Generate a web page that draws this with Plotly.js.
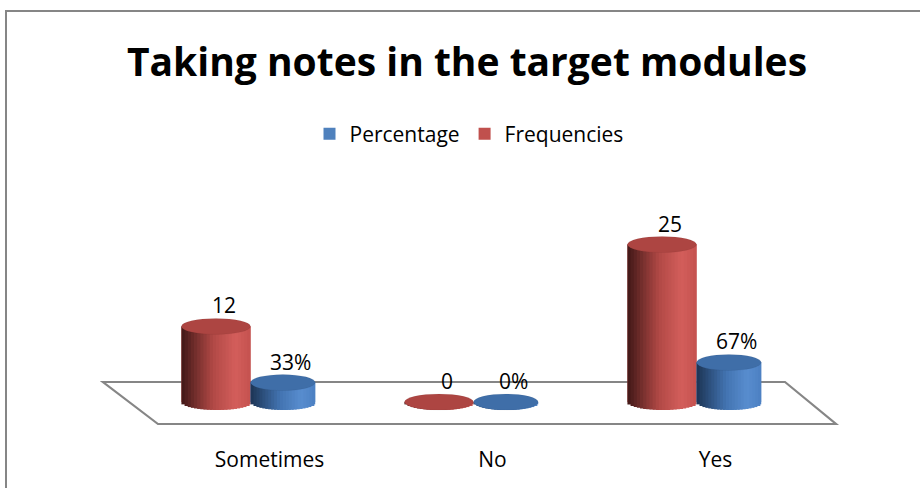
<!DOCTYPE html>
<html>
<head>
<meta charset="utf-8">
<script src="https://cdn.plot.ly/plotly-3.0.1.min.js"></script>
<style>
  html, body { margin: 0; padding: 0; background: #ffffff; }
  #chart { width: 920px; height: 488px; }
</style>
</head>
<body>
<div id="chart"></div>
<script>
// ---------------- data ----------------
const categories = ['Sometimes', 'No', 'Yes'];
const frequencies = [12, 0, 25];
const percentages = [33, 0, 67];
const seriesNames = ['Percentage', 'Frequencies'];
const chartTitle = 'Taking notes in the target modules';

// ---------------- layout geometry (pixels) ----------------
const W = 920, H = 488;
const L = 158, PLOT_W = 669;           // x range [-0.5, 2.5]
const TOP = 213, ZERO = 402, BOT = 414;
const PLOT_H = BOT - TOP;
const PX_RED = 6.3;                    // px per frequency unit
const PX_BLUE = 0.59;                  // px per percentage unit
const RY = 8;                          // ellipse vertical radius (px)
const FONT = '"Open Sans", Lato, sans-serif';

const redRange = [-(BOT - ZERO) / PX_RED, (ZERO - TOP) / PX_RED];
const blueRange = [-(BOT - ZERO) / PX_BLUE, (ZERO - TOP) / PX_BLUE];

const RED = { off: -0.395, w: 0.31, axis: 'y', px: PX_RED, main: '#c0504d', top: '#ad4542',
  stops: [[0, [64, 24, 23]], [0.45, [176, 72, 69]], [0.78, [211, 94, 91]], [1, [196, 82, 79]]] };
const BLUE = { off: -0.085, w: 0.29, axis: 'y2', px: PX_BLUE, main: '#4f81bd', top: '#3f6ea8',
  stops: [[0, [28, 52, 84]], [0.45, [66, 115, 176]], [0.78, [88, 141, 207]], [1, [76, 128, 194]]] };

function gradColor(stops, t) {
  for (let k = 1; k < stops.length; k++) {
    if (t <= stops[k][0]) {
      const a = stops[k - 1], b = stops[k];
      const f = (t - a[0]) / (b[0] - a[0]);
      const c = a[1].map((v, j) => Math.round(v + (b[1][j] - v) * f));
      return 'rgb(' + c.join(',') + ')';
    }
  }
  const c = stops[stops.length - 1][1];
  return 'rgb(' + c.join(',') + ')';
}

const xIdx = categories.map((c, i) => i);
const traces = [];

// legend-bearing main traces (drawn first, covered by shaded bands)
[[percentages, BLUE, seriesNames[0]], [frequencies, RED, seriesNames[1]]].forEach(([vals, S, name]) => {
  traces.push({
    type: 'bar', name: name, x: xIdx, y: vals, yaxis: S.axis,
    offset: S.off, width: S.w, marker: { color: S.main, line: { width: 0 } },
    hoverinfo: 'skip', showlegend: true
  });
});

// shaded cylinder bands
const NB = 22;
[[frequencies, RED], [percentages, BLUE]].forEach(([vals, S]) => {
  const ryU = RY / S.px;
  for (let b = 0; b < NB; b++) {
    const u = (b + 0.5) / NB;
    const depth = ryU * Math.sqrt(Math.max(0, 1 - Math.pow(2 * u - 1, 2)));
    const last = b === NB - 1;
    traces.push({
      type: 'bar', x: xIdx, y: vals.map(v => v + depth), base: vals.map(() => -depth),
      yaxis: S.axis, offset: S.off + b * S.w / NB, width: S.w / NB * (last ? 1 : 1.7),
      marker: { color: gradColor(S.stops, u), line: { width: 0 } },
      hoverinfo: 'skip', showlegend: false
    });
  }
});

// top ellipses and data labels
const shapes = [];
const annotations = [];
[[frequencies, RED, v => String(v)], [percentages, BLUE, v => v + '%']].forEach(([vals, S, fmt]) => {
  const ryU = RY / S.px;
  vals.forEach((v, i) => {
    shapes.push({
      type: 'circle', xref: 'x', yref: S.axis, layer: 'above',
      x0: i + S.off, x1: i + S.off + S.w, y0: v - ryU, y1: v + ryU,
      fillcolor: S.top, line: { color: 'rgba(0,0,0,0.08)', width: 0.6 }
    });
    annotations.push({
      x: i + S.off + S.w / 2, y: v, xref: 'x', yref: S.axis,
      text: fmt(v), showarrow: false, yanchor: 'bottom', xanchor: 'center',
      xshift: 8, yshift: RY - 3, font: { family: FONT, size: 21, color: '#000' }
    });
  });
});

// floor parallelogram and frame (decoration, pixel based)
const px2x = p => (p - L) / PLOT_W;
const py2y = p => (BOT - p) / PLOT_H;
const floor = [[103, 382], [785, 382], [836, 424], [158, 424]];
shapes.push({
  type: 'path', xref: 'paper', yref: 'paper', layer: 'below',
  path: 'M' + floor.map(p => px2x(p[0]) + ',' + py2y(p[1])).join(' L') + ' Z',
  line: { color: '#868686', width: 2.2 }, fillcolor: 'rgba(0,0,0,0)'
});
shapes.push({ type: 'line', xref: 'paper', yref: 'paper', x0: px2x(5), x1: px2x(921), y0: py2y(11), y1: py2y(11),
  line: { color: '#868686', width: 2 } });
shapes.push({ type: 'line', xref: 'paper', yref: 'paper', x0: px2x(6), x1: px2x(6), y0: py2y(10), y1: py2y(490),
  line: { color: '#868686', width: 2 } });

const layout = {
  width: W, height: H,
  margin: { l: L, r: W - L - PLOT_W, t: TOP, b: H - BOT, pad: 0 },
  paper_bgcolor: '#ffffff', plot_bgcolor: 'rgba(0,0,0,0)',
  barmode: 'overlay',
  font: { family: FONT, color: '#000' },
  title: {
    text: '<b>' + chartTitle + '</b>',
    font: { family: FONT, size: 39, color: '#000' },
    x: 467 / W, xanchor: 'center', xref: 'container',
    y: 1 - 62 / H, yanchor: 'middle', yref: 'container'
  },
  legend: {
    orientation: 'h', x: 469 / W, xanchor: 'center', xref: 'container',
    y: 1 - 134 / H, yanchor: 'middle', yref: 'container',
    font: { family: FONT, size: 21, color: '#000' }, traceorder: 'normal',
    itemclick: false, bgcolor: 'rgba(0,0,0,0)'
  },
  xaxis: {
    range: [-0.5, 2.5], tickvals: xIdx, ticktext: categories,
    showgrid: false, zeroline: false, showline: false, ticks: '',
    tickfont: { family: FONT, size: 21, color: '#000' }, ticklabelstandoff: 31,
    fixedrange: true
  },
  yaxis: { range: redRange, visible: false, showgrid: false, zeroline: false, fixedrange: true },
  yaxis2: { range: blueRange, overlaying: 'y', visible: false, showgrid: false, zeroline: false, fixedrange: true },
  shapes: shapes,
  annotations: annotations,
  showlegend: true
};

Plotly.newPlot('chart', traces, layout, { displayModeBar: false, staticPlot: true });
</script>
</body>
</html>
